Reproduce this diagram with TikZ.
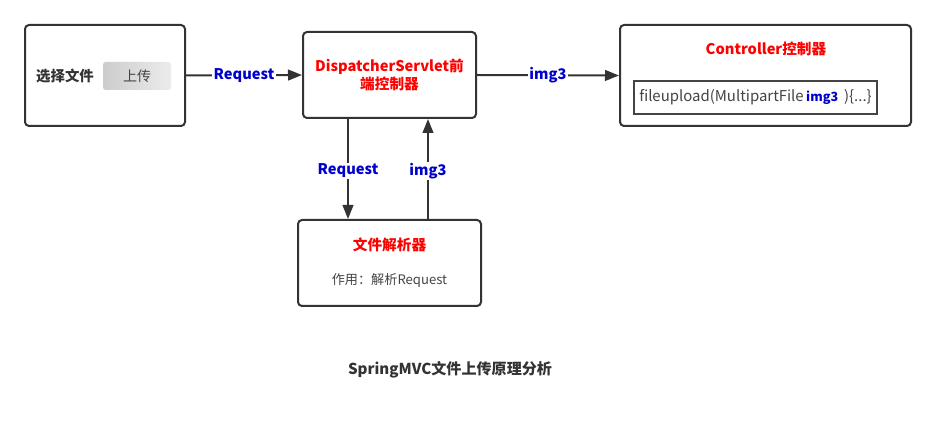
\documentclass[tikz,border=0pt]{standalone}
\usepackage{fontspec}
\setmainfont{Noto Sans CJK SC}
\usetikzlibrary{arrows.meta}
\definecolor{lnc}{HTML}{333333}
\definecolor{txtred}{HTML}{FF0000}
\definecolor{txtblue}{HTML}{0000CC}
\definecolor{txtgray}{HTML}{444444}
\begin{document}
\begin{tikzpicture}[x=0.75pt,y=-0.75pt,
  box/.style={draw=lnc,line width=1.5pt,rounded corners=3pt,inner sep=0pt},
  arr/.style={draw=lnc,line width=1.5pt,-{Triangle[length=10.5pt,width=8pt]}},
  lbl/.style={fill=white,inner sep=1pt,text=txtblue,font=\bfseries\fontsize{11}{12}\selectfont},
  title/.style={text=txtred,font=\bfseries\fontsize{11}{13.5}\selectfont}]
\useasboundingbox[fill=white] (0,0) rectangle (936,434);
% left box with upload button
\node[box,minimum width=120pt,minimum height=75.75pt] (pick) at (105,75.5) {};
\node[text=lnc,font=\bfseries\fontsize{10.8}{12}\selectfont] (picktxt) at (65,76) {选择文件};
\node[rounded corners=2pt,left color=gray!40,right color=gray!15,minimum width=51pt,minimum height=21pt,inner sep=0pt,
  text=txtgray,font=\fontsize{10.5}{12}\selectfont] (upload) at (137,76) {上传};
% dispatcher
\node[box,minimum width=129.75pt,minimum height=64.5pt,title,align=center] (disp) at (389.5,75) {DispatcherServlet前\\端控制器};
% controller
\node[box,minimum width=218.25pt,minimum height=75.75pt] (ctrl) at (765.5,75.5) {};
\node[title] (ctrltxt) at (766,49) {Controller控制器};
\node[draw=txtgray,line width=1.5pt,minimum width=182.25pt,minimum height=24.75pt,inner sep=0pt,
  text=txtgray,font=\fontsize{11.2}{12}\selectfont] (method) at (755.5,97.5)
  {fileupload(MultipartFile\,{\color{txtblue}\bfseries\fontsize{9.5}{12}\selectfont img3}\,\ )\{...\}};
% parser
\node[box,minimum width=137.25pt,minimum height=64.5pt] (parser) at (389.5,263) {};
\node[title] (partxt) at (389.5,245) {文件解析器};
\node[text=txtgray,font=\fontsize{9.85}{12}\selectfont] (pardesc) at (389.5,280) {作用：解析Request};
% arrows
\draw[arr] (pick.east) -- (disp.west) node[lbl,midway] {Request};
\draw[arr] (disp.east) -- (ctrl.west) node[lbl,midway] {img3};
\coordinate (downx) at (348,0);
\coordinate (upx) at (428,0);
\draw[arr] (downx |- disp.south) -- (downx |- parser.north) node[lbl,pos=0.52] {Request};
\draw[arr] (upx |- parser.north) -- (upx |- disp.south) node[lbl,pos=0.48] {img3};
% caption
\node[text=lnc,font=\bfseries\fontsize{11.3}{12}\selectfont] (caption) at (450,370) {SpringMVC文件上传原理分析};
\end{tikzpicture}
\end{document}
